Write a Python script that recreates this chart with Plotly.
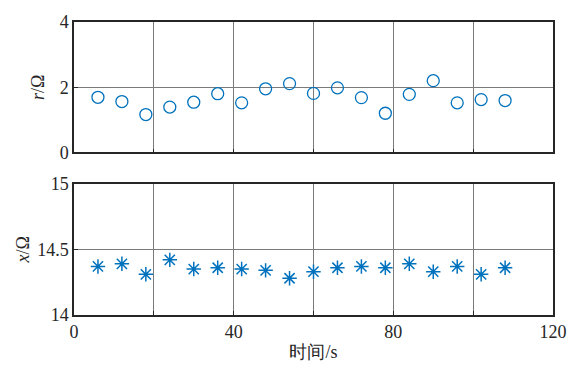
import plotly.graph_objects as go

t = [6, 12, 18, 24, 30, 36, 42, 48, 54, 60, 66, 72, 78, 84, 90, 96, 102, 108]
r_vals = [1.69, 1.56, 1.16, 1.39, 1.54, 1.80, 1.52, 1.95, 2.11,
          1.81, 1.98, 1.68, 1.20, 1.78, 2.20, 1.52, 1.62, 1.59]
x_vals = [14.37, 14.39, 14.31, 14.42, 14.35, 14.36, 14.35, 14.34, 14.28,
          14.33, 14.36, 14.37, 14.36, 14.39, 14.33, 14.37, 14.31, 14.36]

x_ticks = [0, 40, 80, 120]
r_ticks = [0, 2, 4]
xx_ticks = [14, 14.5, 15]
xx_tick_text = ["14", "14.5", "15"]

blue = "#0072BD"
grid = "#7a7a7a"
axc = "#262626"
font = "Liberation Serif"
fs = 18

fig = go.Figure()
fig.add_trace(go.Scatter(x=t, y=r_vals, mode="markers", xaxis="x", yaxis="y",
                         marker=dict(symbol="circle-open", size=12, color=blue,
                                     line=dict(width=1.3, color=blue))))
fig.add_trace(go.Scatter(x=t, y=x_vals, mode="markers", xaxis="x2", yaxis="y2",
                         marker=dict(symbol="asterisk-open", size=12, color=blue,
                                     line=dict(width=1.5, color=blue))))

xcommon = dict(range=[0, 120], tickvals=x_ticks, showgrid=True, gridcolor=grid, gridwidth=1,
               showline=True, mirror=True, linecolor=axc, linewidth=1.5, zeroline=False,
               ticks="inside", ticklen=4, tickcolor=axc,
               tickfont=dict(family=font, size=fs),
               minor=dict(dtick=20, showgrid=True, gridcolor=grid, gridwidth=1,
                          ticks="inside", ticklen=4, tickcolor=axc))

fig.update_layout(
    width=579, height=371,
    margin=dict(l=74, r=26, t=16, b=56),
    paper_bgcolor="white", plot_bgcolor="white",
    showlegend=False,
    font=dict(family=font, size=fs, color="#262626"),
    xaxis=dict(**xcommon, anchor="y", showticklabels=False),
    yaxis=dict(domain=[0.555, 1], range=[0, 4], tickvals=r_ticks, showgrid=True,
               tickfont=dict(family=font, size=fs),
               gridcolor=grid, showline=True, mirror=True, linecolor=axc, linewidth=1.5,
               zeroline=False, ticks="inside", ticklen=4, tickcolor=axc,
               title=dict(text="<i>r</i>/Ω", standoff=10, font=dict(family=font, size=fs))),
    xaxis2=dict(**xcommon, anchor="y2", matches="x",
                title=dict(text="时间/s", standoff=4, font=dict(family=font, size=fs))),
    yaxis2=dict(domain=[0, 0.448], range=[14, 15], tickvals=xx_ticks, ticktext=xx_tick_text,
                tickfont=dict(family=font, size=fs),
                showgrid=True, gridcolor=grid, showline=True, mirror=True, linecolor=axc,
                linewidth=1.5, zeroline=False, ticks="inside", ticklen=4, tickcolor=axc,
                title=dict(text="<i>x</i>/Ω", standoff=3, font=dict(family=font, size=fs))),
)

fig.write_html("out.html")
